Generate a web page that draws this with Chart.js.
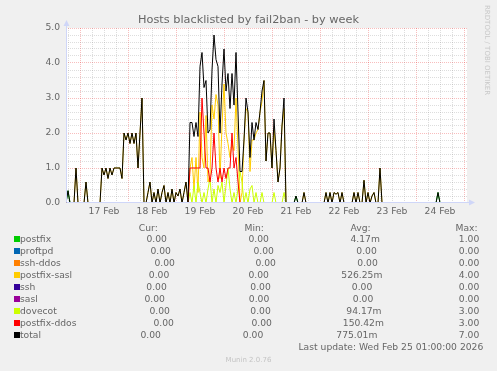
<!DOCTYPE html>
<html>
<head>
<meta charset="utf-8">
<script src="https://cdn.jsdelivr.net/npm/chart.js@4.4.1/dist/chart.umd.min.js"></script>
<style>
body { margin: 0; background: #f0f0f0; }
#wrap { position: relative; width: 497px; height: 371px; font-family: 'DejaVu Sans', sans-serif; color: #666; }
#wrap canvas { position: absolute; left: 0; top: 0; }
.t { position: absolute; white-space: pre; font-size: 9.2px; line-height: 12px; }
.box { position: absolute; width: 6px; height: 6px; }
#title { position: absolute; left: 0; width: 497px; top: 13px; text-align: center; font-size: 11.3px; line-height: 14px; }
#rrd { position: absolute; left: 483px; top: 5px; font-size: 7px; line-height: 8px; color: #c8c8c8; writing-mode: vertical-rl; }
#munin { position: absolute; left: 0; width: 497px; top: 353.6px; text-align: center; font-size: 7px; line-height: 12px; color: #c4c4c4; }
</style>
</head>
<body>
<div id="wrap">
  <canvas id="chart" width="497" height="371"></canvas>
  <div id="title">Hosts blacklisted by fail2ban - by week</div>
  <div id="rrd">RRDTOOL / TOBI OETIKER</div>
  <div id="munin">Munin 2.0.76</div>
</div>
<script>
// x = hours since 17 Feb 00:00, one sample per hour (16 Feb 17:00 .. 25 Feb 01:00)
const hours = Array.from({ length: 201 }, (_, i) => i - 7);
const days = ['17 Feb', '18 Feb', '19 Feb', '20 Feb', '21 Feb', '22 Feb', '23 Feb', '24 Feb'];

const total = [
  0, 0.35, 0, 0, 0, 1.0, 0,
  0, 0, 0, 0.6, 0, 0, 0, 0, 0, 0, 0, 1.0, 0.8, 1.0, 0.7, 1.0, 0.8, 1.0, 1.0, 1.0, 1.0, 0.7, 2.0, 1.8,
  2.0, 1.7, 2.0, 1.7, 2.0, 1.0, 2.0, 3.0, 0, 0, 0.3, 0.6, 0, 0.3, 0, 0.4, 0, 0.3, 0.5, 0, 0.3, 0, 0.4, 0,
  0.3, 0.2, 0.4, 0, 0.3, 0.6, 0, 2.3, 2.3, 1.9, 2.3, 1.9, 3.9, 4.3, 3.3, 3.5, 2.0, 2.1, 3.8, 4.8, 4.1, 3.9, 2.0, 3.4,
  4.4, 3.2, 3.7, 2.7, 3.7, 2.8, 4.3, 2.6, 0.9, 0.9, 1.8, 3.0, 2.6, 1.3, 2.3, 1.8, 2.3, 2.1, 2.6, 3.2, 3.5, 1.2, 2.0, 2.0,
  1.0, 2.4, 1.5, 0.6, 1.0, 2.2, 3.0, 0, 0, 0, 0, 0, 0.2, 0, 0, 0, 0.3, 0, 0, 0, 0, 0, 0, 0,
  0, 0, 0, 0.3, 0, 0.3, 0, 0.3, 0.25, 0.3, 0, 0.3, 0, 0, 0, 0, 0, 0.3, 0, 0.3, 0, 0, 0.65, 0,
  0.3, 0, 0.2, 0.3, 0, 0, 1.0, 0, 0, 0, 0, 0, 0, 0, 0, 0, 0, 0, 0, 0, 0, 0, 0, 0,
  0, 0, 0, 0, 0, 0, 0, 0, 0, 0, 0, 0.3, 0, 0, 0, 0, 0, 0, 0, 0, 0, 0, 0, 0,
  0, 0
];
const postfixSasl = [
  0, 0, 0, 0, 0, 1.0, 0,
  0, 0, 0, 0.6, 0, 0, 0, 0, 0, 0, 0, 1.0, 0.8, 1.0, 0.7, 1.0, 0.8, 1.0, 1.0, 1.0, 1.0, 0.7, 2.0, 1.8,
  2.0, 1.7, 2.0, 1.7, 2.0, 1.0, 2.0, 3.0, 0, 0, 0.3, 0.6, 0, 0.3, 0, 0.4, 0, 0.3, 0.5, 0, 0.3, 0, 0.4, 0,
  0.3, 0.2, 0.4, 0, 0.3, 0.6, 0, 1.0, 1.3, 0.4, 1.3, 0.3, 2.6, 1.3, 1.0, 2.5, 0.6, 0.8, 2.8, 2.4, 3.1, 2.8, 0.7, 2.2,
  3.4, 2.0, 1.7, 1.3, 1.7, 1.5, 3.0, 1.6, 0, 0.3, 1.8, 2.7, 2.6, 0.9, 1.8, 1.8, 2.0, 2.1, 2.6, 2.9, 3.5, 1.2, 2.0, 2.0,
  1.0, 2.1, 1.5, 0.6, 1.0, 2.2, 2.7, 0, 0, 0, 0, 0, 0, 0, 0, 0, 0.3, 0, 0, 0, 0, 0, 0, 0,
  0, 0, 0, 0.3, 0, 0.3, 0, 0.3, 0.25, 0.3, 0, 0.3, 0, 0, 0, 0, 0, 0.3, 0, 0.3, 0, 0, 0.65, 0,
  0.3, 0, 0.2, 0.3, 0, 0, 1.0, 0, 0, 0, 0, 0, 0, 0, 0, 0, 0, 0, 0, 0, 0, 0, 0, 0,
  0, 0, 0, 0, 0, 0, 0, 0, 0, 0, 0, 0, 0, 0, 0, 0, 0, 0, 0, 0, 0, 0, 0, 0,
  0, 0
];
const postfixDdos = [
  0, 0, 0, 0, 0, 0, 0,
  0, 0, 0, 0, 0, 0, 0, 0, 0, 0, 0, 0, 0, 0, 0, 0, 0, 0, 0, 0, 0, 0, 0, 0,
  0, 0, 0, 0, 0, 0, 0, 0, 0, 0, 0, 0, 0, 0, 0, 0, 0, 0, 0, 0, 0, 0, 0, 0,
  0, 0, 0, 0, 0, 0, 0, 1.0, 1.0, 1.0, 1.0, 1.0, 1.0, 3.0, 2.0, 1.0, 1.0, 0.6, 1.0, 2.0, 1.0, 0.6, 1.0, 0.6,
  1.0, 0.7, 1.0, 1.0, 2.0, 1.0, 1.3, 0.6, 0, 0, 0, 0, 0, 0, 0, 0, 0, 0, 0, 0, 0, 0, 0, 0,
  0, 0, 0, 0, 0, 0, 0, 0, 0, 0, 0, 0, 0, 0, 0, 0, 0, 0, 0, 0, 0, 0, 0, 0,
  0, 0, 0, 0, 0, 0, 0, 0, 0, 0, 0, 0, 0, 0, 0, 0, 0, 0, 0, 0, 0, 0, 0, 0,
  0, 0, 0, 0, 0, 0, 0, 0, 0, 0, 0, 0, 0, 0, 0, 0, 0, 0, 0, 0, 0, 0, 0, 0,
  0, 0, 0, 0, 0, 0, 0, 0, 0, 0, 0, 0, 0, 0, 0, 0, 0, 0, 0, 0, 0, 0, 0, 0,
  0, 0
];
const dovecot = [
  0, 0, 0, 0, 0, 0, 0,
  0, 0, 0, 0, 0, 0, 0, 0, 0, 0, 0, 0, 0, 0, 0, 0, 0, 0, 0, 0, 0, 0, 0, 0,
  0, 0, 0, 0, 0, 0, 0, 0, 0, 0, 0, 0, 0, 0, 0, 0, 0, 0, 0, 0, 0, 0, 0, 0,
  0, 0, 0, 0, 0, 0, 0, 0.3, 0, 0.5, 0, 0.6, 0.3, 0, 0.3, 0, 0.4, 0.7, 0, 0.4, 0, 0.5, 0.3, 0.6,
  0, 0.5, 1.0, 0.4, 0, 0.3, 0, 0.4, 0.9, 0.6, 0, 0.3, 0, 0.4, 0.5, 0, 0.3, 0, 0, 0.3, 0, 0, 0, 0,
  0, 0.3, 0, 0, 0, 0, 0.3, 0, 0, 0, 0, 0, 0, 0, 0, 0, 0, 0, 0, 0, 0, 0, 0, 0,
  0, 0, 0, 0, 0, 0, 0, 0, 0, 0, 0, 0, 0, 0, 0, 0, 0, 0, 0, 0, 0, 0, 0, 0,
  0, 0, 0, 0, 0, 0, 0, 0, 0, 0, 0, 0, 0, 0, 0, 0, 0, 0, 0, 0, 0, 0, 0, 0,
  0, 0, 0, 0, 0, 0, 0, 0, 0, 0, 0, 0, 0, 0, 0, 0, 0, 0, 0, 0, 0, 0, 0, 0,
  0, 0
];
const postfix = [
  0, 0.35, 0, 0, 0, 0, 0,
  0, 0, 0, 0, 0, 0, 0, 0, 0, 0, 0, 0, 0, 0, 0, 0, 0, 0, 0, 0, 0, 0, 0, 0,
  0, 0, 0, 0, 0, 0, 0, 0, 0, 0, 0, 0, 0, 0, 0, 0, 0, 0, 0, 0, 0, 0, 0, 0,
  0, 0, 0, 0, 0, 0, 0, 0, 0, 0, 0, 0, 0, 0, 0, 0, 0, 0, 0, 0, 0, 0, 0, 0,
  0, 0, 0, 0, 0, 0, 0, 0, 0, 0, 0, 0, 0, 0, 0, 0, 0, 0, 0, 0, 0, 0, 0, 0,
  0, 0, 0, 0, 0, 0, 0, 0, 0, 0, 0, 0, 0.2, 0, 0, 0, 0, 0, 0, 0, 0, 0, 0, 0,
  0, 0, 0, 0, 0, 0, 0, 0, 0, 0, 0, 0, 0, 0, 0, 0, 0, 0, 0, 0, 0, 0, 0, 0,
  0, 0, 0, 0, 0, 0, 0, 0, 0, 0, 0, 0, 0, 0, 0, 0, 0, 0, 0, 0, 0, 0, 0, 0,
  0, 0, 0, 0, 0, 0, 0, 0, 0, 0, 0, 0.3, 0, 0, 0, 0, 0, 0, 0, 0, 0, 0, 0, 0,
  0, 0
];
// proftpd, ssh-ddos, ssh and sasl stay at 0 all week (max 0.00)
const flat = hours.map(() => 0);

const names = ['postfix', 'proftpd', 'ssh-ddos', 'postfix-sasl', 'ssh', 'sasl', 'dovecot', 'postfix-ddos', 'total'];
const colors = ['#00cc00', '#0066b3', '#ff8000', '#ffcc00', '#330099', '#990099', '#ccff00', '#ff0000', '#000000'];
const values = [postfix, flat, flat, postfixSasl, flat, flat, dovecot, postfixDdos, total];
const curVals = ['0.00', '0.00', '0.00', '0.00', '0.00', '0.00', '0.00', '0.00', '0.00'];
const minVals = ['0.00', '0.00', '0.00', '0.00', '0.00', '0.00', '0.00', '0.00', '0.00'];
const avgVals = ['4.17m', '0.00', '0.00', '526.25m', '0.00', '0.00', '94.17m', '150.42m', '775.01m'];
const maxVals = ['1.00', '0.00', '0.00', '4.00', '0.00', '0.00', '3.00', '3.00', '7.00'];

// legend layout (left edge of each column, per row)
const curX = [146.5, 150.5, 154.5, 148.8, 146.3, 144.5, 149.5, 153.5, 140.5];
const minX = [248.5, 253.5, 255.5, 248.5, 250.3, 248.8, 250.3, 251.5, 242.8];
const avgX = [350.5, 356.3, 357.3, 341.3, 351.8, 352.8, 346.3, 342.8, 336.3];
const maxX = 458.8;

const wrap = document.getElementById('wrap');
function addText(txt, x, y) {
  const d = document.createElement('div');
  d.className = 't';
  d.style.left = x + 'px';
  d.style.top = y + 'px';
  d.textContent = txt;
  wrap.appendChild(d);
}
addText('Cur:', 138.8, 221.8);
addText('Min:', 244.5, 221.8);
addText('Avg:', 350.5, 221.8);
addText('Max:', 455.5, 221.8);
names.forEach((n, i) => {
  const top = 232.5 + 12 * i;
  const b = document.createElement('div');
  b.className = 'box';
  b.style.left = '14px';
  b.style.top = (top + 3.5) + 'px';
  b.style.background = colors[i];
  wrap.appendChild(b);
  addText(n, 20, top);
  addText(curVals[i], curX[i], top);
  addText(minVals[i], minX[i], top);
  addText(avgVals[i], avgX[i], top);
  addText(maxVals[i], maxX, top);
});
addText('Last update: Wed Feb 25 01:00:00 2026', 298.5, 340.8);

const gridMinor = 'rgba(143,143,143,0.3)';
const gridMajor = 'rgba(229,0,0,0.26)';
const axisColor = '#cfd6f8';

const plotBg = {
  id: 'plotBg',
  beforeDraw(c) {
    const { ctx, chartArea: a } = c;
    ctx.save();
    ctx.fillStyle = '#ffffff';
    ctx.fillRect(a.left, a.top, a.right - a.left, a.bottom - a.top);
    ctx.restore();
  }
};
const axes = {
  id: 'axes',
  afterDatasetsDraw(c) {
    const { ctx, chartArea: a } = c;
    const x0 = a.left + 0.5, y0 = a.bottom - 0.5;
    ctx.save();
    ctx.strokeStyle = axisColor;
    ctx.fillStyle = axisColor;
    ctx.lineWidth = 1;
    ctx.beginPath();
    ctx.moveTo(x0, y0);
    ctx.lineTo(x0, a.top - 3);
    ctx.moveTo(x0, y0);
    ctx.lineTo(a.right + 3, y0);
    ctx.stroke();
    ctx.beginPath();
    ctx.moveTo(x0, a.top - 8);
    ctx.lineTo(x0 - 3, a.top - 2);
    ctx.lineTo(x0 + 3, a.top - 2);
    ctx.fill();
    ctx.beginPath();
    ctx.moveTo(a.right + 8, y0);
    ctx.lineTo(a.right + 2, y0 - 3);
    ctx.lineTo(a.right + 2, y0 + 3);
    ctx.fill();
    ctx.restore();
  }
};

const tickFont = { family: 'DejaVu Sans', size: 9.2 };
const isWhole = v => Math.abs(v - Math.round(v)) < 1e-9;

new Chart(document.getElementById('chart'), {
  type: 'line',
  data: {
    datasets: names.map((n, i) => ({
      label: n,
      data: hours.map((h, k) => ({ x: h, y: values[i][k] })),
      borderColor: colors[i],
      borderWidth: 1,
      pointRadius: 0,
      tension: 0,
      fill: false,
      clip: 0,
      order: names.length - 1 - i
    }))
  },
  options: {
    responsive: false,
    animation: false,
    devicePixelRatio: 1,
    layout: { padding: { top: 28, right: 30, left: 0, bottom: 0 } },
    plugins: { legend: { display: false }, tooltip: { enabled: false } },
    scales: {
      x: {
        type: 'linear',
        min: -7,
        max: 193.5,
        afterFit: s => { s.height = 168; },
        afterBuildTicks: s => {
          const t = [];
          for (let h = -6; h <= 192; h += 6) t.push({ value: h });
          s.ticks = t;
        },
        ticks: {
          autoSkip: false,
          maxRotation: 0,
          padding: 3,
          color: '#666',
          font: tickFont,
          callback: v => (v % 24 === 12 ? days[(v - 12) / 24] : '')
        },
        grid: {
          color: c => (c.tick && c.tick.value % 24 === 0 ? gridMajor : gridMinor),
          drawTicks: false,
          lineWidth: 1
        },
        border: { display: false, dash: [1, 1] }
      },
      y: {
        min: 0,
        max: 5,
        afterFit: s => { s.width = 66; },
        afterBuildTicks: s => {
          const t = [];
          for (let i = 0; i <= 25; i++) t.push({ value: i / 5 });
          s.ticks = t;
        },
        ticks: {
          autoSkip: false,
          padding: 6,
          color: '#666',
          font: tickFont,
          callback: v => (isWhole(v) ? v.toFixed(1) : '')
        },
        grid: {
          color: c => {
            const v = c.tick ? c.tick.value : 1;
            if (v === 0) return 'rgba(0,0,0,0)';
            return isWhole(v) ? gridMajor : gridMinor;
          },
          drawTicks: false,
          lineWidth: 1
        },
        border: { display: false, dash: [1, 1] }
      }
    }
  },
  plugins: [plotBg, axes]
});
</script>
</body>
</html>
